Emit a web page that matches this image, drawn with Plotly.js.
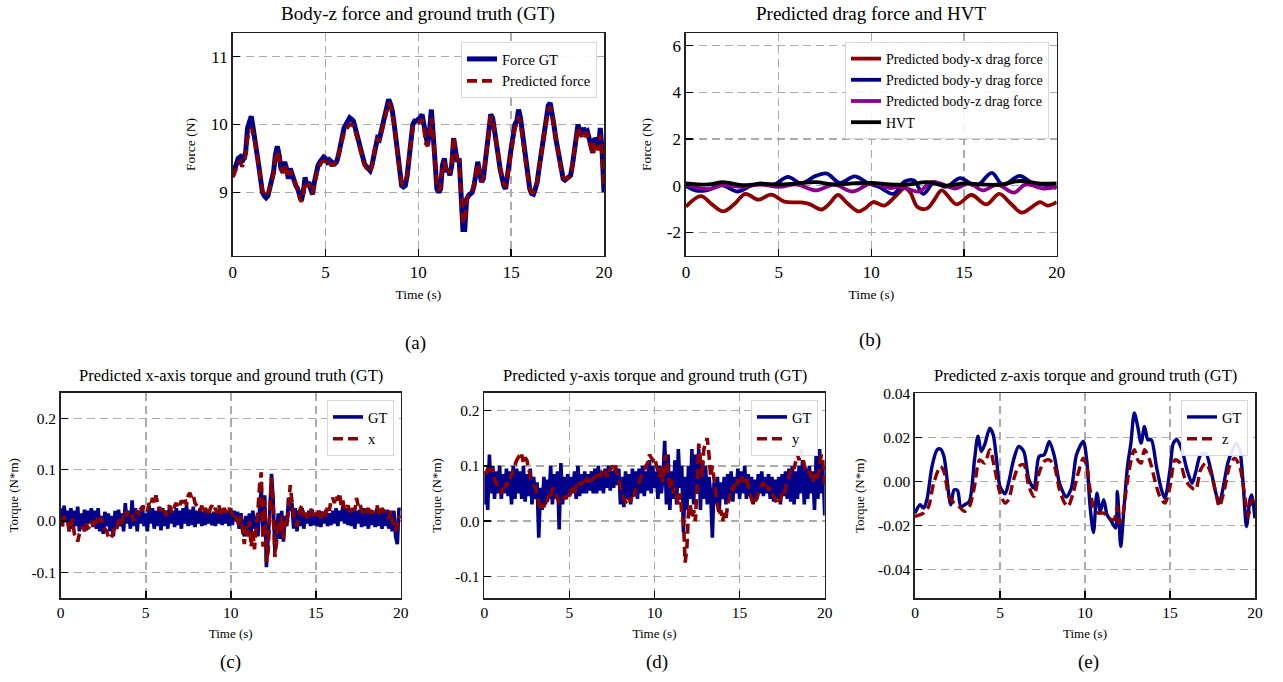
<!DOCTYPE html>
<html>
<head>
<meta charset="utf-8">
<script src="https://cdn.plot.ly/plotly-3.0.1.min.js"></script>
<style>html,body{margin:0;padding:0;background:#fff;}#chart{width:1283px;height:682px;}</style>
</head>
<body>
<div id="chart"></div>
<script>
// ---------------- DATA ----------------
const T01 = [0,0.1,0.2,0.3,0.4,0.5,0.6,0.7,0.8,0.9,1,1.1,1.2,1.3,1.4,1.5,1.6,1.7,1.8,1.9,2,2.1,2.2,2.3,2.4,2.5,2.6,2.7,2.8,2.9,3,3.1,3.2,3.3,3.4,3.5,3.6,3.7,3.8,3.9,4,4.1,4.2,4.3,4.4,4.5,4.6,4.7,4.8,4.9,5,5.1,5.2,5.3,5.4,5.5,5.6,5.7,5.8,5.9,6,6.1,6.2,6.3,6.4,6.5,6.6,6.7,6.8,6.9,7,7.1,7.2,7.3,7.4,7.5,7.6,7.7,7.8,7.9,8,8.1,8.2,8.3,8.4,8.5,8.6,8.7,8.8,8.9,9,9.1,9.2,9.3,9.4,9.5,9.6,9.7,9.8,9.9,10,10.1,10.2,10.3,10.4,10.5,10.6,10.7,10.8,10.9,11,11.1,11.2,11.3,11.4,11.5,11.6,11.7,11.8,11.9,12,12.1,12.2,12.3,12.4,12.5,12.6,12.7,12.8,12.9,13,13.1,13.2,13.3,13.4,13.5,13.6,13.7,13.8,13.9,14,14.1,14.2,14.3,14.4,14.5,14.6,14.7,14.8,14.9,15,15.1,15.2,15.3,15.4,15.5,15.6,15.7,15.8,15.9,16,16.1,16.2,16.3,16.4,16.5,16.6,16.7,16.8,16.9,17,17.1,17.2,17.3,17.4,17.5,17.6,17.7,17.8,17.9,18,18.1,18.2,18.3,18.4,18.5,18.6,18.7,18.8,18.9,19,19.1,19.2,19.3,19.4,19.5,19.6,19.7,19.8,19.9,20];

// (a) body-z force
const forceGT = [
9.25,9.35,9.40,9.50,9.52,9.45,9.50,9.60,9.95,10.05,
10.12,9.95,9.80,9.60,9.40,9.20,9.00,8.95,8.92,8.95,
9.05,9.15,9.30,9.55,9.68,9.55,9.35,9.30,9.45,9.35,
9.20,9.35,9.25,9.20,9.10,9.05,8.95,8.88,9.00,9.22,
9.10,9.15,9.05,8.97,9.15,9.30,9.40,9.45,9.50,9.52,
9.50,9.45,9.48,9.45,9.43,9.42,9.45,9.55,9.70,9.85,
9.95,10.00,10.05,10.10,10.08,10.05,9.95,9.85,9.75,9.62,
9.50,9.42,9.38,9.35,9.32,9.40,9.55,9.75,9.80,9.78,
9.90,10.00,10.15,10.30,10.37,10.30,10.20,10.00,9.75,9.45,
9.25,9.10,9.08,9.10,9.25,9.50,9.80,10.00,10.05,10.05,
10.08,10.10,10.15,10.00,9.75,9.70,9.90,10.22,9.85,9.40,
9.05,9.00,9.05,9.40,9.50,9.30,9.35,9.25,9.40,9.80,
9.55,9.45,9.50,9.00,8.45,8.45,8.90,8.95,8.98,9.00,
9.10,9.25,9.45,9.30,9.15,9.20,9.45,9.70,9.90,10.15,
10.10,9.95,9.80,9.55,9.35,9.20,9.10,9.05,9.20,9.45,
9.65,9.85,10.00,10.05,10.22,10.10,9.90,9.65,9.40,9.20,
9.05,8.98,8.97,9.05,9.15,9.35,9.55,9.75,9.95,10.10,
10.28,10.32,10.20,10.00,9.80,9.65,9.45,9.30,9.20,9.18,
9.20,9.22,9.25,9.40,9.65,9.80,10.00,9.90,9.85,9.95,
9.88,9.90,9.80,9.65,9.58,9.80,9.75,9.65,9.95,9.60,
9.00];
const forcePred = [
9.22,9.30,9.38,9.42,9.45,9.38,9.42,9.55,9.80,9.90,
9.95,9.85,9.75,9.58,9.40,9.20,9.02,8.97,8.95,8.98,
9.06,9.15,9.28,9.50,9.60,9.50,9.35,9.28,9.40,9.30,
9.22,9.32,9.22,9.18,9.12,9.05,8.92,8.86,8.98,9.15,
9.08,9.12,9.03,8.98,9.12,9.28,9.36,9.40,9.45,9.46,
9.45,9.40,9.43,9.40,9.40,9.42,9.45,9.55,9.68,9.80,
9.88,9.92,9.96,10.00,10.00,9.98,9.90,9.80,9.70,9.58,
9.48,9.40,9.36,9.32,9.30,9.38,9.55,9.72,9.80,9.76,
9.86,9.98,10.12,10.25,10.32,10.26,10.15,9.98,9.75,9.48,
9.28,9.14,9.12,9.14,9.26,9.50,9.78,9.96,10.00,10.00,
10.02,10.04,10.08,9.95,9.72,9.68,9.85,10.10,9.82,9.40,
9.08,9.02,9.08,9.38,9.45,9.30,9.35,9.28,9.45,9.82,
9.58,9.48,9.45,9.00,8.55,8.55,8.88,8.95,8.98,9.02,
9.12,9.25,9.42,9.28,9.15,9.20,9.42,9.68,9.88,10.12,
10.08,9.92,9.78,9.55,9.36,9.22,9.12,9.08,9.20,9.42,
9.62,9.80,9.95,10.00,10.12,10.02,9.85,9.62,9.40,9.20,
9.06,9.00,9.00,9.06,9.16,9.35,9.55,9.74,9.92,10.06,
10.22,10.26,10.16,9.98,9.80,9.64,9.45,9.30,9.22,9.20,
9.20,9.22,9.26,9.40,9.62,9.78,9.95,9.86,9.82,9.90,
9.84,9.86,9.76,9.62,9.55,9.74,9.70,9.62,9.85,9.55,
9.05];

// (b) predicted drag force and HVT
const dragXTime = [0,0.8,1.4,2.0,2.6,3.2,3.9,4.6,5.3,6.2,6.7,7.3,7.7,8.2,8.7,9.3,9.7,10.1,10.7,11.3,11.8,12.1,12.5,13.0,13.4,13.8,14.6,15.4,16.2,16.9,17.5,18.1,18.6,19.1,19.5,20];
const dragX = [-0.9,-0.45,-0.8,-1.1,-0.8,-0.35,-0.6,-0.38,-0.68,-0.72,-0.8,-1.02,-0.8,-0.4,-0.75,-1.1,-0.95,-0.7,-0.85,-0.45,-0.1,-0.3,-0.92,-0.98,-0.6,-0.2,-0.8,-0.4,-0.8,-0.35,-0.75,-1.15,-0.95,-0.7,-0.85,-0.7];
const dragYTime = [0,0.5,1.1,1.9,2.8,3.5,4.0,4.7,5.5,6.2,7.0,7.6,8.3,9.1,9.8,10.4,11.2,11.8,12.3,12.8,13.4,14.0,14.8,15.5,15.8,16.5,17.1,18.0,18.7,19.3,20];
const dragY = [-0.02,-0.2,-0.2,0.02,-0.25,0.0,0.1,0.03,0.38,0.1,0.42,0.52,0.12,0.4,0.12,-0.05,-0.35,0.18,0.22,-0.35,0.15,-0.05,0.32,0.02,0.05,0.55,0.03,0.42,0.1,0.05,-0.1];
const dragZTime = [0,1.2,2.0,3.0,4.0,5.0,6.0,7.0,8.0,9.0,10.0,11.0,11.6,12.2,12.6,13.2,13.7,14.5,15.3,16.0,16.8,17.7,18.3,19.3,20];
const dragZ = [0.05,-0.15,0.02,-0.05,0.05,-0.05,0.05,-0.2,0.05,-0.25,0.1,-0.1,-0.05,-0.2,-0.25,0.15,0.1,-0.12,0.1,-0.2,0.05,-0.3,0.05,-0.12,-0.05];
const hvtTime = [0,1.2,2.0,3.0,4.0,5.0,6.0,7.0,8.0,9.0,10.0,11.0,12.0,13.0,14.0,15.0,16.0,17.0,18.0,19.0,20];
const hvt = [0.1,0.05,0.15,0.02,0.08,0.05,0.1,0.15,0.05,0.1,0.12,0.05,0.05,0.15,0.0,0.1,0.05,0.05,0.2,0.1,0.1];

// (c) x-axis torque
const torqueXGT = [
0.025,-0.01,0.03,0.0,0.02,-0.02,0.025,-0.015,0.02,-0.01,
0.028,-0.02,0.015,-0.01,0.022,-0.018,0.02,-0.005,0.025,-0.012,
0.02,-0.015,0.025,-0.02,0.01,-0.025,0.018,-0.01,0.015,-0.02,
0.01,-0.03,0.02,-0.015,0.022,-0.01,0.015,-0.02,0.035,-0.005,
0.02,-0.015,0.04,-0.01,0.025,-0.02,0.02,-0.005,0.03,-0.01,
0.015,-0.02,0.03,-0.005,0.025,-0.015,0.02,-0.01,0.028,-0.018,
0.025,-0.01,0.02,-0.015,0.03,-0.005,0.02,-0.012,0.025,-0.008,
0.02,-0.015,0.025,-0.005,0.03,-0.01,0.022,-0.008,0.028,-0.012,
0.02,-0.005,0.025,-0.01,0.018,-0.008,0.02,-0.005,0.015,-0.008,
0.018,-0.01,0.022,-0.005,0.02,-0.008,0.025,-0.005,0.02,-0.01,
0.025,-0.008,0.02,0.0,0.018,-0.015,0.015,-0.005,-0.03,0.01,
-0.02,0.015,-0.025,0.02,-0.015,0.01,-0.03,0.025,0.065,-0.02,
0.05,-0.09,-0.04,0.02,0.092,0.04,-0.06,-0.02,0.015,-0.035,
0.02,-0.04,0.01,-0.01,0.045,0.02,0.035,-0.015,0.025,-0.02,
0.02,-0.01,0.025,-0.015,0.015,-0.005,0.02,-0.01,0.022,-0.008,
0.015,-0.01,0.02,-0.012,0.018,-0.005,0.022,-0.01,0.015,-0.008,
0.02,-0.005,0.025,-0.01,0.02,0.0,0.03,-0.005,0.025,-0.008,
0.02,-0.01,0.025,-0.015,0.02,-0.005,0.022,-0.012,0.025,-0.01,
0.02,-0.015,0.022,-0.008,0.018,-0.012,0.025,-0.01,0.02,-0.015,
0.018,-0.01,0.022,-0.015,0.015,-0.02,0.02,-0.03,-0.045,0.025,
0.02];
const torqueXPred = [
0.005,-0.01,0.01,-0.005,0.0,-0.02,-0.01,0.005,-0.025,-0.03,
-0.04,-0.025,-0.02,-0.01,-0.02,-0.005,-0.015,-0.01,0.0,-0.01,
0.005,-0.005,0.01,0.0,0.005,-0.01,-0.015,-0.02,-0.03,-0.035,
-0.03,-0.02,-0.01,-0.015,0.0,0.005,-0.005,0.01,0.02,0.01,
0.02,0.015,0.01,0.0,0.015,0.02,0.01,0.025,0.02,0.03,
0.025,0.02,0.035,0.03,0.045,0.035,0.05,0.03,0.02,0.025,
0.015,0.02,0.01,0.025,0.03,0.02,0.015,0.03,0.035,0.025,
0.03,0.04,0.035,0.045,0.03,0.05,0.055,0.045,0.05,0.035,
0.03,0.025,0.02,0.03,0.015,0.025,0.02,0.01,0.025,0.03,
0.02,0.025,0.015,0.03,0.02,0.01,0.025,0.02,0.015,0.025,
0.02,0.01,0.015,0.005,0.0,-0.01,0.01,-0.02,-0.045,-0.01,
-0.03,0.0,-0.05,-0.02,-0.055,-0.01,0.02,0.07,0.095,-0.05,
0.04,-0.08,-0.06,0.01,0.085,0.03,-0.07,-0.04,0.0,-0.02,
0.01,-0.035,0.0,-0.01,0.02,0.07,0.04,0.01,0.0,-0.01,
0.01,0.025,0.03,0.01,0.02,0.005,0.015,0.025,0.01,0.02,
0.015,0.01,0.02,0.005,0.015,0.02,0.01,0.03,0.02,0.04,
0.045,0.035,0.05,0.04,0.055,0.03,0.04,0.02,0.025,0.03,
0.02,0.015,0.025,0.02,0.045,0.03,0.035,0.02,0.015,0.025,
0.02,0.025,0.01,0.02,0.015,0.025,0.03,0.02,0.01,0.025,
0.02,0.015,0.01,0.005,0.02,0.0,-0.005,-0.02,-0.01,0.01,
0.005];

// (d) y-axis torque
const torqueYGT = [
0.03,0.09,0.02,0.12,0.05,0.1,0.04,0.09,0.05,0.1,
0.04,0.085,0.05,0.095,0.045,0.09,0.03,0.1,0.04,0.095,
0.05,0.09,0.04,0.1,0.035,0.085,0.045,0.095,0.03,0.08,
0.04,0.07,-0.03,0.06,0.02,0.08,0.03,0.075,0.04,0.1,
0.03,0.085,0.04,0.09,-0.015,0.105,0.03,0.08,0.04,0.085,
0.045,0.08,0.05,0.09,0.04,0.1,0.045,0.085,0.05,0.09,
0.05,0.085,0.055,0.09,0.05,0.095,0.05,0.1,0.055,0.09,
0.05,0.095,0.06,0.1,0.055,0.09,0.06,0.1,0.065,0.095,
0.03,0.08,0.025,0.09,0.04,0.085,0.03,0.095,0.045,0.09,
0.04,0.095,0.05,0.1,0.045,0.09,0.055,0.11,0.05,0.1,
0.06,0.09,0.04,0.1,0.05,0.08,0.145,0.03,0.12,0.02,
0.09,0.04,0.11,0.03,0.13,0.06,0.1,-0.02,0.08,0.02,
0.1,0.04,0.13,0.03,0.12,0.05,0.13,0.02,0.11,0.04,
0.1,0.03,0.08,0.05,-0.03,0.07,0.03,0.08,0.02,0.07,
0.04,0.08,0.03,0.085,0.04,0.09,0.035,0.08,0.05,0.095,
0.04,0.09,0.05,0.1,0.04,0.085,0.045,0.08,0.03,0.075,
0.04,0.085,0.05,0.09,0.045,0.08,0.05,0.085,0.04,0.08,
0.035,0.075,0.04,0.08,0.03,0.085,0.045,0.09,0.04,0.095,
0.035,0.1,0.03,0.09,0.04,0.1,0.05,0.11,0.03,0.095,
0.04,0.1,0.05,0.09,0.02,0.12,0.04,0.13,0.05,0.1,
0.01];
const torqueYPred = [
0.09,0.085,0.095,0.1,0.09,0.095,0.075,0.07,0.06,0.055,
0.05,0.06,0.055,0.07,0.065,0.075,0.085,0.09,0.1,0.11,
0.115,0.11,0.12,0.105,0.115,0.11,0.095,0.08,0.07,0.065,
0.06,0.05,0.035,0.02,0.03,0.025,0.04,0.035,0.05,0.045,
0.06,0.055,0.05,0.04,0.035,0.04,0.038,0.045,0.04,0.05,
0.045,0.055,0.06,0.05,0.065,0.06,0.07,0.065,0.075,0.07,
0.075,0.07,0.08,0.072,0.078,0.08,0.075,0.085,0.08,0.088,
0.085,0.09,0.08,0.095,0.09,0.1,0.095,0.1,0.09,0.075,
0.06,0.055,0.04,0.035,0.03,0.04,0.035,0.05,0.045,0.06,
0.065,0.07,0.08,0.085,0.09,0.1,0.105,0.12,0.115,0.11,
0.115,0.1,0.09,0.08,0.095,0.07,0.11,0.12,0.085,0.06,
0.075,0.05,0.06,0.045,0.03,0.05,0.015,0.0,-0.075,-0.05,
0.02,0.03,0.005,0.02,0.0,0.06,0.14,0.11,0.08,0.13,
0.14,0.15,0.12,0.08,0.1,0.07,0.05,0.03,0.01,0.02,
0.0,0.015,0.005,0.03,0.04,0.06,0.055,0.07,0.065,0.075,
0.07,0.08,0.075,0.07,0.08,0.06,0.05,0.04,0.03,0.035,
0.04,0.05,0.055,0.065,0.07,0.06,0.065,0.055,0.06,0.05,
0.045,0.04,0.03,0.035,0.04,0.05,0.045,0.06,0.07,0.08,
0.085,0.1,0.095,0.11,0.12,0.11,0.13,0.115,0.1,0.09,
0.085,0.09,0.08,0.07,0.085,0.075,0.08,0.1,0.12,0.11,
0.06];

// (e) z-axis torque
const torqueZGTTime = [0,0.3,0.5,0.7,1.0,1.3,1.5,1.7,2.1,2.3,2.5,2.7,3.0,3.2,3.5,3.7,3.9,4.1,4.4,4.6,4.8,5.0,5.3,5.5,5.8,6.1,6.4,6.7,7.0,7.3,7.6,7.9,8.2,8.5,8.9,9.2,9.5,9.9,10.1,10.3,10.5,10.7,10.9,11.1,11.3,11.5,11.8,11.9,12.0,12.1,12.3,12.5,12.7,12.9,13.1,13.3,13.5,13.7,13.9,14.2,14.5,14.7,15.0,15.2,15.4,15.7,16.0,16.3,16.5,16.8,17.1,17.4,17.7,17.9,18.1,18.4,18.6,18.9,19.1,19.3,19.5,19.7,19.8,20];
const torqueZGT = [-0.0144,-0.0106,-0.0121,-0.0083,0.0068,0.0144,0.0147,0.0114,-0.0106,-0.0038,
-0.0041,-0.0114,-0.0102,-0.0091,0.0098,0.0205,0.0136,0.0167,0.0242,0.0212,
0.0098,-0.0023,-0.0056,-0.0008,0.0098,0.0159,0.0136,0.0008,-0.003,0.0114,
0.0121,0.0182,0.0114,-0.0008,-0.0071,-0.003,0.0121,0.0182,0.0098,-0.0114,
-0.0232,-0.0053,-0.0136,-0.0083,-0.0152,-0.0174,-0.0212,-0.0045,-0.0159,-0.0295,
-0.0114,0.0068,0.0174,0.0311,0.025,0.0174,0.025,0.0189,0.0189,0.0068,
-0.0038,-0.0076,0.0053,0.0174,0.0189,0.0144,0.0053,-0.0008,0.0038,0.0121,
0.0129,0.0053,-0.0053,-0.0098,-0.0038,0.0083,0.0129,0.0174,0.0144,-0.0008,
-0.0205,-0.0083,-0.0061,-0.0167];
const torqueZPredTime = [0,0.5,0.8,1.1,1.5,1.7,2.0,2.3,2.6,2.9,3.2,3.5,3.8,4.1,4.4,4.7,5.0,5.3,5.5,5.8,6.1,6.4,6.7,7.0,7.3,7.6,7.9,8.2,8.5,8.8,9.0,9.3,9.6,9.9,10.1,10.3,10.5,10.8,11.1,11.4,11.7,11.9,12.0,12.2,12.4,12.6,12.9,13.1,13.3,13.5,13.8,14.1,14.4,14.7,15.0,15.3,15.6,15.9,16.2,16.5,16.8,17.1,17.4,17.7,17.9,18.2,18.5,18.8,19.1,19.4,19.6,19.8,20];
const torqueZPred = [-0.0159,-0.0144,-0.0114,-0.0008,0.0068,0.0045,-0.0068,-0.0098,-0.0114,-0.0136,
-0.0114,-0.0023,0.0098,0.0083,0.0144,0.0053,-0.0053,-0.0098,-0.0083,0.0008,
0.0068,0.0076,-0.0023,-0.0068,0.0038,0.0091,0.0098,0.0068,-0.0038,-0.0098,
-0.0114,-0.0053,0.0038,0.0106,0.0068,-0.0038,-0.0114,-0.0144,-0.0144,-0.0167,
-0.0174,-0.0114,-0.0189,-0.0159,-0.0053,0.0053,0.0144,0.0098,0.0083,0.0144,
0.0098,0.0008,-0.0068,-0.0098,-0.0023,0.0098,0.0083,0.0008,-0.0023,-0.0038,
0.0053,0.0083,0.0038,-0.0053,-0.0114,-0.0038,0.0068,0.0106,0.0068,-0.0068,
-0.0159,-0.0083,-0.0114];

// ticks
const timeTicks = [0,5,10,15,20];
const timeTickText = ['0','5','10','15','20'];
const aTicks = [9,10,11];
const aTickText = ['9','10','11'];
const bTicks = [-2,0,2,4,6];
const bTickText = ['-2','0','2','4','6'];
const cdTicks = [-0.1,0,0.1,0.2];
const cdTickText = ['-0.1','0.0','0.1','0.2'];
const eTicks = [-0.04,-0.02,0,0.02,0.04];
const eTickText = ['-0.04','-0.02','0.00','0.02','0.04'];

// ---------------- LAYOUT ----------------
const W = 1283, H = 682;
const FONT = "Liberation Serif, 'Times New Roman', Times, serif";
const BLUE = '#00008b', RED = '#8b0000', PURPLE = '#8b008b', BLACK = '#000000';
const fx = p => p / W, fy = p => 1 - p / H;

function xAxis(l, r, anchor, tickSize, titleSize, standoff) {
  return {
    domain: [fx(l), fx(r)], anchor: anchor, range: [0, 20],
    tickmode: 'array', tickvals: timeTicks, ticktext: timeTickText,
    ticks: 'inside', ticklen: 7, tickwidth: 1.6, tickcolor: '#000',
    showline: true, linecolor: '#222', linewidth: 1.6, mirror: true,
    showgrid: true, gridcolor: '#ababab', gridwidth: 1.6, griddash: '8px,5px',
    zeroline: false, tickfont: {family: FONT, size: tickSize, color: '#000'},
    title: {text: 'Time (s)', font: {family: FONT, size: titleSize, color: '#000'}, standoff: standoff}
  };
}
function yAxis(t, b, anchor, range, vals, text, tickSize, titleText, titleSize, standoff) {
  return {
    domain: [fy(b), fy(t)], anchor: anchor, range: range,
    tickmode: 'array', tickvals: vals, ticktext: text,
    ticks: 'inside', ticklen: 7, tickwidth: 1.6, tickcolor: '#000',
    showline: true, linecolor: '#222', linewidth: 1.6, mirror: true,
    showgrid: true, gridcolor: '#ababab', gridwidth: 1.6, griddash: '8px,5px',
    zeroline: false, tickfont: {family: FONT, size: tickSize, color: '#000'},
    title: {text: titleText, font: {family: FONT, size: titleSize, color: '#000'}, standoff: standoff}
  };
}
function legendAt(right, top, size) {
  return {
    x: fx(right), y: fy(top), xanchor: 'right', yanchor: 'top', xref: 'paper', yref: 'paper',
    bgcolor: 'rgba(255,255,255,0.9)', bordercolor: '#d8d8d8', borderwidth: 1,
    font: {family: FONT, size: size, color: '#000'}, tracegroupgap: 0
  };
}

const traces = [
  {x: T01, y: forceGT, type: 'scatter', mode: 'lines', name: 'Force GT', line: {color: BLUE, width: 5}, xaxis: 'x', yaxis: 'y', legend: 'legend'},
  {x: T01, y: forcePred, type: 'scatter', mode: 'lines', name: 'Predicted force', line: {color: RED, width: 3.8, dash: '10px,5px'}, xaxis: 'x', yaxis: 'y', legend: 'legend'},

  {x: dragXTime, y: dragX, type: 'scatter', mode: 'lines', name: 'Predicted body-x drag force', line: {color: RED, width: 3.8, shape: 'spline', smoothing: 1}, xaxis: 'x2', yaxis: 'y2', legend: 'legend2'},
  {x: dragYTime, y: dragY, type: 'scatter', mode: 'lines', name: 'Predicted body-y drag force', line: {color: BLUE, width: 3.8, shape: 'spline', smoothing: 1}, xaxis: 'x2', yaxis: 'y2', legend: 'legend2'},
  {x: dragZTime, y: dragZ, type: 'scatter', mode: 'lines', name: 'Predicted body-z drag force', line: {color: PURPLE, width: 3.8, shape: 'spline', smoothing: 1}, xaxis: 'x2', yaxis: 'y2', legend: 'legend2'},
  {x: hvtTime, y: hvt, type: 'scatter', mode: 'lines', name: 'HVT', line: {color: BLACK, width: 3.8, shape: 'spline', smoothing: 1}, xaxis: 'x2', yaxis: 'y2', legend: 'legend2'},

  {x: T01, y: torqueXGT, type: 'scatter', mode: 'lines', name: 'GT', line: {color: BLUE, width: 3.6}, xaxis: 'x3', yaxis: 'y3', legend: 'legend3'},
  {x: T01, y: torqueXPred, type: 'scatter', mode: 'lines', name: 'x', line: {color: RED, width: 3.6, dash: '10px,5px'}, xaxis: 'x3', yaxis: 'y3', legend: 'legend3'},

  {x: T01, y: torqueYGT, type: 'scatter', mode: 'lines', name: 'GT', line: {color: BLUE, width: 3.6}, xaxis: 'x4', yaxis: 'y4', legend: 'legend4'},
  {x: T01, y: torqueYPred, type: 'scatter', mode: 'lines', name: 'y', line: {color: RED, width: 3.6, dash: '10px,5px'}, xaxis: 'x4', yaxis: 'y4', legend: 'legend4'},

  {x: torqueZGTTime, y: torqueZGT, type: 'scatter', mode: 'lines', name: 'GT', line: {color: BLUE, width: 3.4, shape: 'spline', smoothing: 0.8}, xaxis: 'x5', yaxis: 'y5', legend: 'legend5'},
  {x: torqueZPredTime, y: torqueZPred, type: 'scatter', mode: 'lines', name: 'z', line: {color: RED, width: 3.4, dash: '10px,5px', shape: 'spline', smoothing: 0.8}, xaxis: 'x5', yaxis: 'y5', legend: 'legend5'}
];

function ann(text, xc, yc, size) {
  return {text: text, x: fx(xc), y: fy(yc), xref: 'paper', yref: 'paper', xanchor: 'center', yanchor: 'middle', showarrow: false, font: {family: FONT, size: size, color: '#000'}};
}

const layout = {
  width: W, height: H, margin: {l: 0, r: 0, t: 0, b: 0},
  paper_bgcolor: '#fff', plot_bgcolor: '#fff',
  font: {family: FONT, color: '#000'},
  xaxis: xAxis(232.7, 604, 'y', 17, 13.5, 9),
  yaxis: yAxis(33.3, 255.7, 'x', [8.065, 11.345], aTicks, aTickText, 17, 'Force (N)', 13.5, 12),
  xaxis2: xAxis(686, 1056.7, 'y2', 17, 13.5, 9),
  yaxis2: yAxis(33.3, 255.7, 'x2', [-3.0, 6.53], bTicks, bTickText, 17, 'Force (N)', 13.5, 12),
  xaxis3: xAxis(60.7, 400.7, 'y3', 15.5, 13, 8),
  yaxis3: yAxis(392.7, 598, 'x3', [-0.15, 0.25], cdTicks, cdTickText, 15.5, 'Torque (N*m)', 13, 10),
  xaxis4: xAxis(484.3, 824.7, 'y4', 15.5, 13, 8),
  yaxis4: yAxis(392.7, 598, 'x4', [-0.139, 0.232], cdTicks, cdTickText, 15.5, 'Torque (N*m)', 13, 10),
  xaxis5: xAxis(915, 1255, 'y5', 15.5, 13, 8),
  yaxis5: yAxis(393.3, 598, 'x5', [-0.0529, 0.04], eTicks, eTickText, 15.5, 'Torque (N*m)', 13, 10),
  legend: legendAt(597, 42, 14.5),
  legend2: legendAt(1049, 42, 14),
  legend3: legendAt(394, 400, 14.5),
  legend4: legendAt(818, 400, 14.5),
  legend5: legendAt(1248, 400, 14.5),
  annotations: [
    ann('Body-z force and ground truth (GT)', 418.4, 14, 19),
    ann('Predicted drag force and HVT', 871.3, 14, 19),
    ann('Predicted x-axis torque and ground truth (GT)', 230.7, 376, 16.5),
    ann('Predicted y-axis torque and ground truth (GT)', 654.5, 376, 16.5),
    ann('Predicted z-axis torque and ground truth (GT)', 1085, 376, 16.5),
    ann('(a)', 415, 343, 19),
    ann('(b)', 870, 340, 19),
    ann('(c)', 230, 662, 19),
    ann('(d)', 657, 662, 19),
    ann('(e)', 1088, 662, 19)
  ],
  showlegend: true
};

Plotly.newPlot('chart', traces, layout, {staticPlot: true, displayModeBar: false});
</script>
</body>
</html>
